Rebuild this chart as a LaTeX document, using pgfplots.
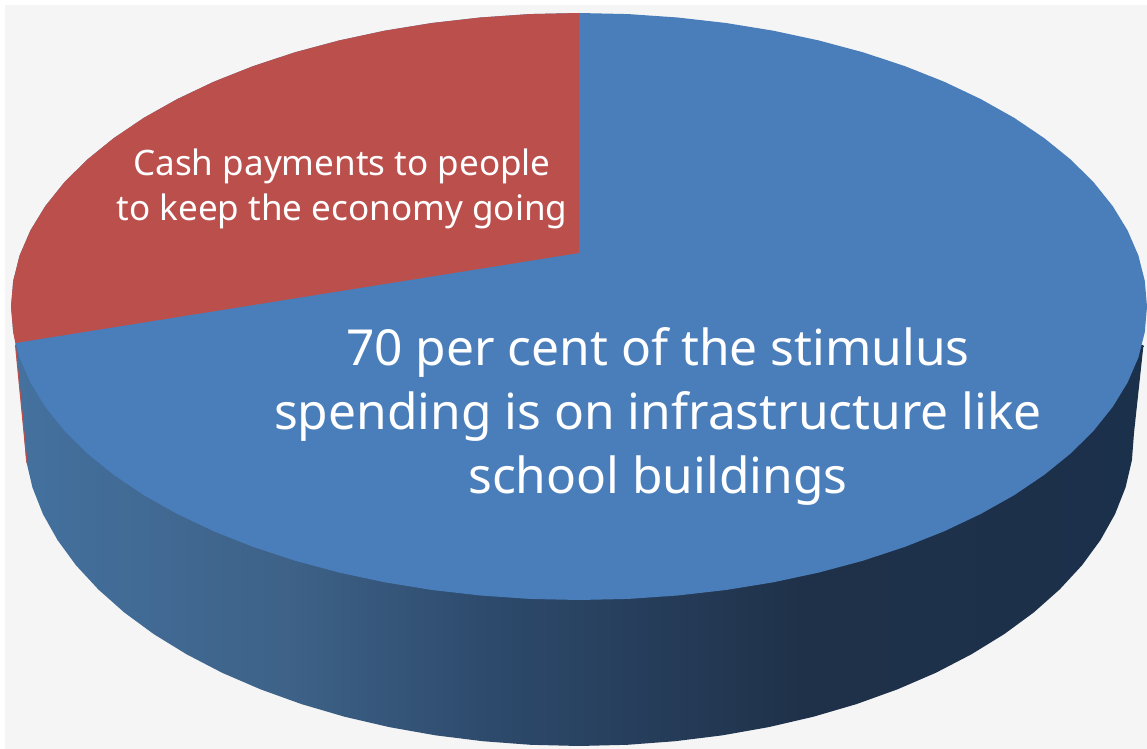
\documentclass[border=0pt]{standalone}
\usepackage{pgfplots}
\pgfplotsset{compat=1.18}
\usepackage{fontspec}
\setmainfont{Noto Sans}
\definecolor{bg}{HTML}{F5F5F5}
\definecolor{topblue}{HTML}{4A7EBB}
\definecolor{topred}{HTML}{BA4F4C}
\definecolor{sideA}{HTML}{44719F}
\definecolor{sideB}{HTML}{3E6288}
\definecolor{sideC}{HTML}{2D4A6C}
\definecolor{sideD}{HTML}{1F3149}
\definecolor{sideE}{HTML}{1B304B}
\pgfdeclarehorizontalshading{pieside}{100bp}{color(0bp)=(sideA); color(25bp)=(sideA); color(37bp)=(sideB); color(46bp)=(sideC); color(60bp)=(sideD); color(75bp)=(sideE); color(100bp)=(sideE)}
\begin{document}
\begin{tikzpicture}
\begin{axis}[
    scale only axis,
    width=860.25pt, height=561.75pt,
    xmin=0, xmax=1147,
    ymin=0, ymax=749,
    y dir=reverse,
    hide axis,
    axis on top=false,
    ]
% page and panel
\addplot[draw=none,fill=white] coordinates {(0,0) (1147,0) (1147,749) (0,749)} -- cycle;
\addplot[draw=none,fill=bg] coordinates {(5,5) (1147,5) (1147,749) (5,749)} -- cycle;

% side wall of the pie
\addplot[draw=none,shading=pieside] coordinates {
(579,306) (15.3,343)
(24,433) (26.1,460.3) (32.4,487.3) (42.9,514) (57.5,540) (76,565.3) (98.4,589.5) (124.3,612.5)
(153.9,634.2) (186.6,654.3) (222.2,672.8) (260.7,689.4) (301.5,704.1) (344.5,716.7) (389.2,727.1)
(435.4,735.3) (482.7,741.2) (530.6,744.8) (579,746)
(627.4,744.8) (675.3,741.2) (722.6,735.3) (768.8,727.1) (813.5,716.7) (856.5,704.1) (897.3,689.4)
(935.8,672.8) (971.4,654.3) (1004.1,634.2) (1033.7,612.5) (1059.6,589.5) (1082,565.3) (1100.5,540)
(1115.1,514) (1125.6,487.3) (1131.9,460.3) (1134,433)
(1143.5,345)
} -- cycle;
\addplot[draw=topred,line width=0.8pt] coordinates {(15.5,345) (27,463)};

% blue slice, drawn as the whole top, red goes over it
\addplot[draw=none,fill=topblue] coordinates {
(1147,306.5) (1144.8,332.1) (1138.4,357.5) (1127.6,382.5) (1112.7,406.9) (1093.8,430.5) (1070.9,453.3)
(1044.3,474.8) (1014.1,495.2) (980.6,514) (944.1,531.3) (904.8,546.9) (863,560.7) (819,572.5)
(773.3,582.3) (726,590) (677.6,595.5) (628.5,598.9) (579,600)
(529.5,598.9) (480.4,595.5) (432,590) (384.7,582.3) (339,572.5) (295,560.7) (253.2,546.9)
(213.9,531.3) (177.4,514) (143.9,495.2) (113.7,474.8) (87.1,453.3) (64.2,430.5) (45.3,406.9)
(30.4,382.5) (19.6,357.5) (13.2,332.1) (11,306.5)
(13.2,280.9) (19.6,255.5) (30.4,230.5) (45.3,206.1) (64.2,182.5) (87.1,159.7) (113.7,138.2)
(143.9,117.8) (177.4,99) (213.9,81.7) (253.2,66.1) (295,52.3) (339,40.5) (384.7,30.7)
(432,23) (480.4,17.5) (529.5,14.1) (579,13)
(628.5,14.1) (677.6,17.5) (726,23) (773.3,30.7) (819,40.5) (863,52.3) (904.8,66.1)
(944.1,81.7) (980.6,99) (1014.1,117.8) (1044.3,138.2) (1070.9,159.7) (1093.8,182.5) (1112.7,206.1)
(1127.6,230.5) (1138.4,255.5) (1144.8,280.9)
} -- cycle;

% red slice
\addplot[draw=none,fill=topred] coordinates {
(579,253) (15.3,343) (13.2,332.1) (11,306.5)
(13.2,280.9) (19.6,255.5) (30.4,230.5) (45.3,206.1) (64.2,182.5) (87.1,159.7) (113.7,138.2)
(143.9,117.8) (177.4,99) (213.9,81.7) (253.2,66.1) (295,52.3) (339,40.5) (384.7,30.7)
(432,23) (480.4,17.5) (529.5,14.1) (579,13)
} -- cycle;

\node[text=white,align=center,font=\fontsize{26.3pt}{33.75pt}\selectfont,anchor=center]
    at (axis cs:342,189) {Cash payments to people\\to keep the economy going};
\node[text=white,align=center,font=\fontsize{37.25pt}{48pt}\selectfont,anchor=center]
    at (axis cs:658,416) {70 per cent of the stimulus\\spending is on infrastructure like\\school buildings};
\end{axis}
\end{tikzpicture}
\end{document}
